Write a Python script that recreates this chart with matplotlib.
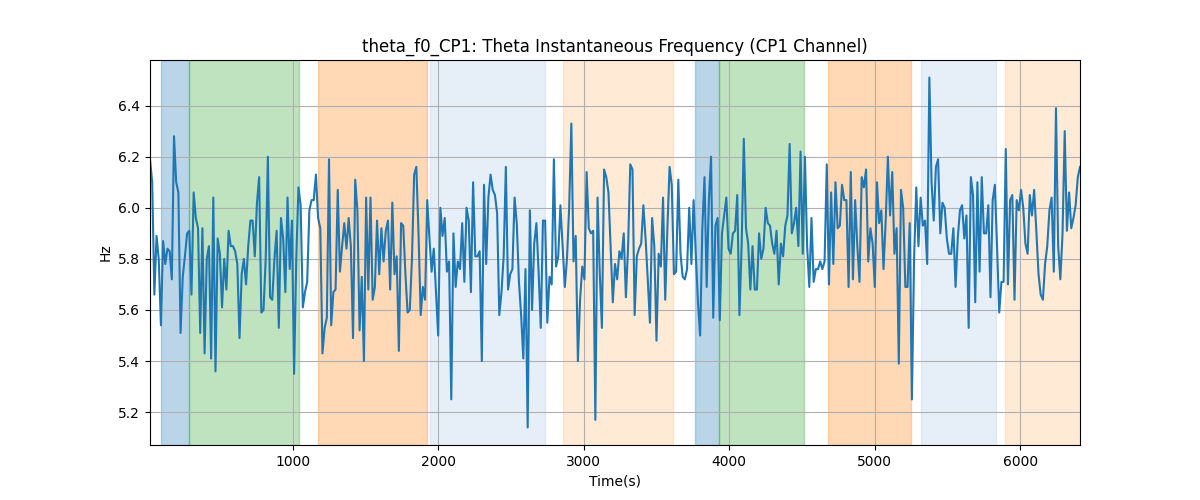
import numpy as np
import matplotlib
matplotlib.use('Agg')
import matplotlib.pyplot as plt

# theta frequency values (Hz), one sample every ~15 s
freq = [
    6.19, 6.10, 5.66, 5.89, 5.80, 5.54, 5.87, 5.78, 5.84, 5.83, 5.72, 6.28, 6.10, 6.06, 5.51, 5.73, 5.81, 5.90, 5.91,
    5.66, 6.06, 5.96, 5.92, 5.51, 5.92, 5.43, 5.80, 5.85, 5.41, 6.04, 5.36, 5.88, 5.82, 5.61, 5.80, 5.68, 5.91,
    5.85, 5.85, 5.83, 5.78, 5.49, 5.74, 5.80, 5.70, 5.85, 5.95, 5.95, 5.81, 6.02, 6.12, 5.59, 5.60, 5.80, 6.20,
    5.65, 5.64, 5.80, 5.91, 5.53, 5.96, 5.88, 5.67, 6.04, 5.76, 5.95, 5.35, 5.80, 6.08, 6.01, 5.61, 5.67, 5.71,
    5.99, 6.03, 6.03, 6.13, 5.96, 5.92, 5.43, 5.53, 5.57, 6.19, 5.54, 5.67, 5.68, 6.07, 5.75, 5.85, 5.94, 5.84,
    5.96, 5.85, 5.49, 6.11, 5.99, 5.52, 5.73, 5.40, 6.04, 5.68, 6.04, 5.64, 5.69, 5.95, 5.74, 5.92, 5.79,
    5.91, 5.95, 5.68, 6.02, 5.74, 5.81, 5.44, 5.94, 5.93, 5.74, 5.59, 5.60, 5.80, 6.13, 6.16, 5.90, 5.58, 5.69,
    5.64, 6.03, 5.88, 5.75, 5.84, 5.67, 5.50, 6.00, 5.89, 5.96, 5.75, 5.79, 5.25, 5.90, 5.69, 5.79, 5.76, 5.94,
    5.71, 6.00, 5.95, 5.67, 6.10, 5.81, 5.81, 5.83, 5.40, 6.09, 5.78, 6.04, 6.13, 6.07, 6.05, 5.98, 5.58, 5.67,
    5.81, 6.16, 5.68, 5.74, 5.76, 6.04, 5.94, 5.71, 5.58, 5.41, 5.76, 5.14, 5.99, 5.60, 5.86, 5.94, 5.75, 5.53,
    5.95, 5.95, 5.55, 5.73, 5.70, 6.19, 5.77, 5.81, 6.01, 5.85, 5.69, 5.80, 6.00, 6.33, 5.79, 5.89, 5.40, 5.64,
    5.77, 5.72, 6.14, 5.92, 5.90, 5.91, 5.17, 6.04, 5.75, 5.53, 6.15, 6.12, 6.06, 5.85, 5.63, 5.78, 5.72, 5.83,
    5.80, 5.90, 5.65, 5.85, 6.17, 6.15, 5.58, 5.81, 5.84, 5.86, 6.01, 5.88, 5.72, 5.55, 5.96, 5.85, 5.48, 5.82,
    5.77, 6.04, 5.64, 5.92, 6.16, 6.09, 5.74, 5.75, 6.11, 5.82, 5.73, 5.72, 5.76, 6.00, 5.78, 6.03, 5.82, 5.63,
    5.50, 5.92, 6.12, 5.69, 6.03, 6.20, 5.57, 5.93, 5.96, 5.56, 5.90, 5.97, 6.04, 5.84, 5.82, 5.90, 5.91, 6.05,
    5.58, 5.85, 6.27, 5.92, 5.86, 5.68, 5.85, 5.68, 5.68, 5.90, 5.80, 5.84, 6.00, 5.94, 5.93, 5.86, 5.82, 5.91,
    5.70, 5.86, 5.81, 5.93, 5.97, 6.25, 5.90, 5.94, 6.00, 5.85, 6.22, 5.82, 6.20, 5.85, 5.69, 5.96, 5.71, 5.76,
    5.76, 5.79, 5.76, 5.79, 6.17, 5.70, 6.06, 5.78, 6.10, 5.92, 5.93, 6.09, 6.03, 6.03, 5.69, 6.14, 5.72,
    6.03, 5.85, 5.71, 6.12, 6.08, 6.15, 5.79, 5.92, 5.86, 5.69, 6.10, 5.94, 5.99, 5.76, 5.95, 6.20, 5.97, 6.14,
    5.82, 5.92, 5.39, 6.07, 6.00, 5.69, 5.69, 5.94, 5.25, 5.80, 6.08, 5.85, 6.04, 5.93, 5.95, 5.78, 6.51, 6.10,
    5.95, 6.16, 6.19, 5.90, 6.02, 6.00, 5.88, 5.82, 5.82, 5.92, 5.69, 5.88, 5.99, 6.01, 5.88, 5.97,
    5.53, 6.12, 6.05, 5.63, 6.10, 5.75, 6.12, 5.90, 5.90, 6.01, 5.65, 6.03, 6.09, 5.85, 5.59, 5.71, 5.71, 6.23,
    5.70, 6.03, 6.05, 5.64, 6.03, 5.99, 6.07, 6.00, 5.86, 5.82, 6.05, 5.97, 6.07, 5.91, 5.74, 5.66, 5.64, 5.78,
    5.85, 5.99, 6.04, 5.75, 6.39, 5.85, 5.72, 5.90, 6.30, 5.91, 6.06, 5.92, 5.96, 6.01, 6.12, 6.16,
]
t_start = 17
t_step = 15.01
times = t_start + t_step * np.arange(len(freq))

# shaded periods: (start, end, colour, alpha)
span_start = [93, 285, 1172, 1943, 2857, 3765, 3930, 4680, 5320, 5897]
span_end = [285, 1042, 1922, 2734, 3614, 3930, 4515, 5251, 5835, 6420]
span_color = ['tab:blue', 'tab:green', 'tab:orange', '#aec7e8', '#ffbb78',
              'tab:blue', 'tab:green', 'tab:orange', '#aec7e8', '#ffbb78']

fig, ax = plt.subplots(figsize=(12, 5))

for s, e, c in zip(span_start, span_end, span_color):
    ax.axvspan(s, e, color=c, alpha=0.3)

ax.plot(times, freq, color='tab:blue')

ax.set_xlim(times[0], times[-1])
ax.set_xlabel('Time(s)')
ax.set_ylabel('Hz')
ax.set_title('theta_f0_CP1: Theta Instantaneous Frequency (CP1 Channel)')
ax.grid(True)

plt.savefig('out.png')
